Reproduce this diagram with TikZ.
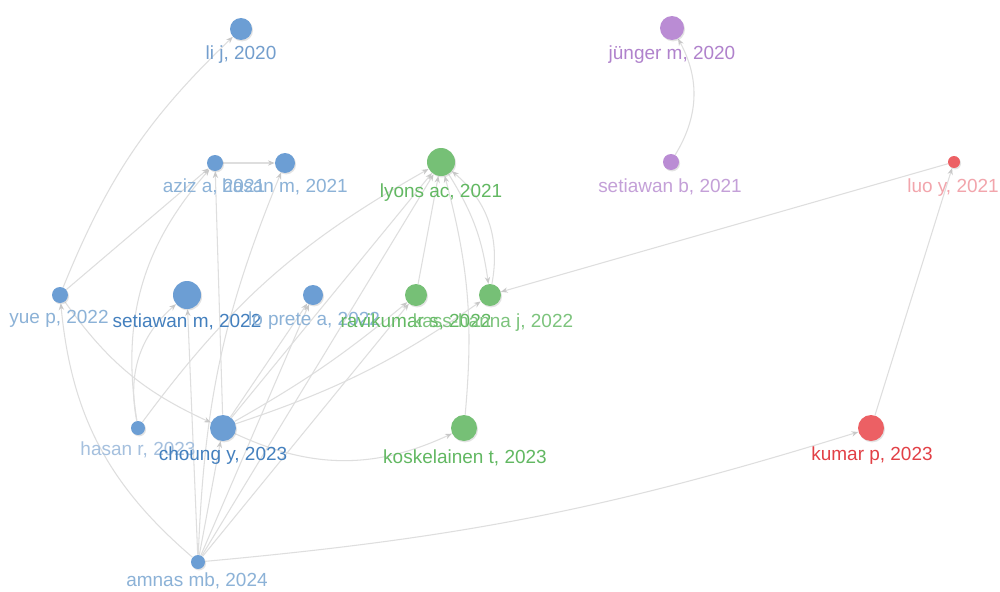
\documentclass[tikz,border=0pt]{standalone}
\usepackage{fontspec}
\setmainfont{Liberation Sans}
\usetikzlibrary{arrows.meta,shadows,backgrounds}
\definecolor{nblue}{RGB}{108,158,212}
\definecolor{ngreen}{RGB}{118,192,118}
\definecolor{npurple}{RGB}{186,140,212}
\definecolor{nred}{RGB}{236,96,100}
\definecolor{lbluel}{RGB}{140,178,215}
\definecolor{lblueh}{RGB}{165,192,222}
\definecolor{lbluem}{RGB}{115,158,205}
\definecolor{lblued}{RGB}{68,128,190}
\definecolor{lgreen}{RGB}{98,184,98}
\definecolor{lgreenl}{RGB}{125,196,125}
\definecolor{lpurple}{RGB}{176,130,204}
\definecolor{lpurplel}{RGB}{196,160,216}
\definecolor{lpink}{RGB}{242,165,172}
\definecolor{lred}{RGB}{226,64,70}
\definecolor{egray}{RGB}{222,222,222}
\definecolor{agray}{RGB}{200,200,200}
\newcommand{\labfont}{\fontsize{10.8}{12}\selectfont}
\begin{document}
\begin{tikzpicture}[x=0.2mm,y=-0.2mm,
  dot/.style={circle,inner sep=0pt,minimum size=#1*0.4mm,
    drop shadow={shadow xshift=0.6pt,shadow yshift=-0.8pt,opacity=0.22}},
  bdot/.style={dot=#1,fill=nblue},
  gdot/.style={dot=#1,fill=ngreen},
  pdot/.style={dot=#1,fill=npurple},
  rdot/.style={dot=#1,fill=nred},
  lab/.style={font=\labfont,inner sep=0pt,anchor=mid},
  edge/.style={draw=egray,line width=0.6pt,-{Stealth[length=3.8pt,width=3pt,color=agray]}}]
\useasboundingbox (0,0) rectangle (1000,591);

% nodes
\node[bdot=11] (lij) at (241,29) {};
\node[pdot=12] (junger) at (672,28) {};
\node[bdot=8] (aziz) at (215,163) {};
\node[bdot=10] (hasanm) at (285,163) {};
\node[gdot=14] (lyons) at (441,162) {};
\node[pdot=8] (setb) at (671,162) {};
\node[rdot=6] (luo) at (954,162) {};
\node[bdot=8] (yue) at (60,295) {};
\node[bdot=14] (setm) at (187,295) {};
\node[bdot=10] (loprete) at (313,295) {};
\node[gdot=11] (ravi) at (416,295) {};
\node[gdot=11] (kass) at (490,295) {};
\node[bdot=7] (hasanr) at (138,428) {};
\node[bdot=13] (choung) at (223,428) {};
\node[gdot=13] (kosk) at (464,428) {};
\node[rdot=13] (kumar) at (871,428) {};
\node[bdot=7] (amnas) at (198,562) {};

% edges
\begin{scope}[on background layer]
\fill[white] (0,0) rectangle (1000,591);
\draw[edge] (yue) to[bend left=12] (lij);
\draw[edge] (yue) -- (aziz);
\draw[edge] (aziz) -- (hasanm);
\draw[edge] (choung) -- (aziz);
\draw[edge] (hasanr) to[bend left=25] (aziz);
\draw[edge] (hasanr) to[bend left=30] (setm);
\draw[edge] (amnas) to[bend left=10] (hasanm);
\draw[edge] (amnas) to[bend left=22] (yue);
\draw[edge] (yue) to[bend right=15] (choung);
\draw[edge] (amnas) -- (setm);
\draw[edge] (amnas) -- (choung);
\draw[edge] (amnas) -- (loprete);
\draw[edge] (amnas) -- (lyons);
\draw[edge] (amnas) -- (ravi);
\draw[edge] (amnas) to[bend right=6] (kumar);
\draw[edge] (choung) -- (lyons);
\draw[edge] (choung) to[bend right=5] (ravi);
\draw[edge] (choung) to[bend right=8] (kass);
\draw[edge] (choung) to[bend right=25] (kosk);
\draw[edge] (choung) -- (loprete);
\draw[edge] (hasanr) to[bend left=12] (lyons);
\draw[edge] (ravi) -- (lyons);
\draw[edge] (kass) to[bend right=30] (lyons);
\draw[edge] (lyons) to[bend left=12] (kass);
\draw[edge] (kosk) to[bend right=10] (lyons);
\draw[edge] (luo) -- (kass);
\draw[edge] (kumar) -- (luo);
\draw[edge] (setb) to[bend right=30] (junger);
\end{scope}

% labels
\node[lab,text=lbluem] (lij-l) at (241,55) {li j, 2020};
\node[lab,text=lpurple] (junger-l) at (672,55) {jünger m, 2020};
\node[lab,text=lbluel] (aziz-l) at (214,188) {aziz a, 2021};
\node[lab,text=lbluel] (hasanm-l) at (285,188) {hasan m, 2021};
\node[lab,text=lgreen] (lyons-l) at (441,193) {lyons ac, 2021};
\node[lab,text=lpurplel] (setb-l) at (670,188) {setiawan b, 2021};
\node[lab,text=lpink] (luo-l) at (953,188) {luo y, 2021};
\node[lab,text=lbluel] (yue-l) at (59,319) {yue p, 2022};
\node[lab,text=lblued] (setm-l) at (187,323) {setiawan m, 2022};
\node[lab,text=lbluel] (loprete-l) at (314,321) {lo prete a, 2022};
\node[lab,text=lgreen] (ravi-l) at (416,323) {ravikumar s, 2022};
\node[lab,text=lgreenl] (kass-l) at (493,323) {kass-hanna j, 2022};
\node[lab,text=lblueh] (hasanr-l) at (138,451) {hasan r, 2023};
\node[lab,text=lblued] (choung-l) at (223,456) {choung y, 2023};
\node[lab,text=lgreen] (kosk-l) at (465,459) {koskelainen t, 2023};
\node[lab,text=lred] (kumar-l) at (872,456) {kumar p, 2023};
\node[lab,text=lbluel] (amnas-l) at (197,582) {amnas mb, 2024};
\end{tikzpicture}
\end{document}
